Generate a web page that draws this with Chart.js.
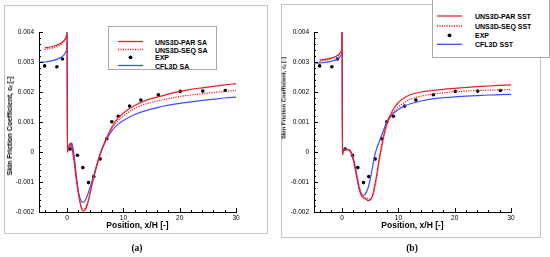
<!DOCTYPE html>
<html>
<head>
<meta charset="utf-8">
<script src="https://cdn.jsdelivr.net/npm/chart.js@4.4.1/dist/chart.umd.min.js"></script>
<style>
  html, body { margin:0; padding:0; background:#fff; }
  body { width:550px; height:257px; position:relative; overflow:hidden; font-family:"Liberation Sans", Arial, sans-serif; }
  .frame { position:absolute; border:1px solid #c4c4c4; box-sizing:border-box; }
  canvas { position:absolute; top:0; }
  .legend { position:absolute; background:#fff; border:1px solid #a8a8a8; box-sizing:border-box; z-index:3; }
  .legend svg { position:absolute; left:0; top:0; }
  .lbl { position:absolute; font-weight:bold; font-size:7px; line-height:7px; white-space:nowrap; color:#000; transform:translateY(-50%); }
  .xt { position:absolute; font-weight:bold; font-size:8.5px; white-space:nowrap; transform:translate(-50%,-50%); z-index:2; }
  .yt { position:absolute; font-weight:bold; white-space:nowrap; transform:translate(-50%,-50%) rotate(-90deg); z-index:2; }
  .yt sub { font-size:70%; vertical-align:-1px; }
  .cap { position:absolute; font-family:"Liberation Serif", serif; font-weight:bold; font-size:9.5px; transform:translate(-50%,-50%); }
</style>
</head>
<body>
<div class="frame" style="left:4px;top:5px;width:264px;height:229px;"></div>
<div class="frame" style="left:281px;top:4px;width:260px;height:234px;"></div>
<canvas id="cA" width="275" height="257" style="left:0px;"></canvas>
<canvas id="cB" width="275" height="257" style="left:275px;"></canvas>
<div class="xt" style="left:137.5px;top:225px;">Position, x/H [-]</div>
<div class="xt" style="left:412.5px;top:225px;">Position, x/H [-]</div>
<div class="yt" style="left:10px;top:126px;font-size:7px;">Skin Friction Coefficient, c<sub>f</sub> [-]</div>
<div class="yt" style="left:284px;top:98px;font-size:5.8px;">Skin Friction Coefficient, c<sub>f</sub> [-]</div>
<div class="cap" style="left:137px;top:248px;">(a)</div>
<div class="cap" style="left:412px;top:248px;">(b)</div>
<div id="legA" class="legend" style="left:108px;top:26px;width:109px;height:44px;"></div>
<div id="legB" class="legend" style="left:432px;top:-1px;width:118px;height:59px;"></div>
<script>
// ---------- DATA (cf values in units of 1e-3) ----------
const expX = [-4.0, -1.83, -0.83, 0.53, 1.83, 2.78, 3.79, 4.73, 5.86, 7.04, 7.93, 9.1, 11.1, 13.1, 16.2, 20.1, 24.1, 28.1];
const expY = [2.87, 2.84, 3.10, 0.10, -0.11, -0.52, -1.02, -0.82, -0.23, 0.44, 1.01, 1.19, 1.53, 1.73, 1.91, 2.02, 2.03, 2.05];

// Panel (a): SA model
const xSA = [-5, -4, -3, -2, -1, -0.5, -0.2, -0.05, 0, 0.05, 0.2, 0.4, 0.6, 0.8, 1.0, 1.3, 1.7, 2.1, 2.5, 2.8, 3.2, 3.6, 4.0, 4.5, 5.0, 5.5, 6.0, 6.5, 7, 8, 9, 10, 12, 14, 16, 18, 20, 22, 24, 26, 28, 30];
const parSA = [null, 3.47, 3.5, 3.55, 3.64, 3.73, 3.83, 3.94, 4.0, 0.0, 0.15, 0.25, 0.3, 0.2, 0.0, -0.4, -1.0, -1.5, -1.85, -1.97, -1.93, -1.75, -1.45, -1.02, -0.65, -0.3, 0.0, 0.25, 0.47, 0.85, 1.12, 1.3, 1.55, 1.72, 1.83, 1.93, 2.02, 2.09, 2.14, 2.19, 2.24, 2.28];
const seqSA = [null, 3.42, 3.45, 3.5, 3.6, 3.7, 3.8, 3.92, 4.0, 0.0, 0.15, 0.25, 0.3, 0.2, 0.0, -0.4, -1.0, -1.48, -1.8, -1.9, -1.87, -1.7, -1.42, -1.0, -0.63, -0.3, 0.0, 0.24, 0.45, 0.8, 1.03, 1.2, 1.45, 1.6, 1.7, 1.78, 1.85, 1.9, 1.94, 1.98, 2.02, 2.05];
const cflSA = [2.99, 3.0, 3.03, 3.08, 3.17, 3.25, 3.35, 3.5, 4.0, 0.0, 0.08, 0.15, 0.22, 0.3, 0.2, -0.2, -0.9, -1.4, -1.63, -1.68, -1.62, -1.45, -1.22, -0.92, -0.6, -0.28, 0.0, 0.22, 0.42, 0.72, 0.92, 1.05, 1.25, 1.38, 1.48, 1.56, 1.62, 1.67, 1.72, 1.76, 1.8, 1.83];

// Panel (b): SST model
const xSST = [-5, -4, -3, -2, -1, -0.5, -0.2, -0.05, 0, 0.05, 0.3, 0.6, 1.0, 1.4, 1.8, 2.2, 2.6, 3.0, 3.4, 3.8, 4.2, 4.6, 5.0, 5.4, 5.8, 6.2, 6.6, 7.0, 7.5, 8, 9, 10, 11, 12, 14, 16, 18, 20, 22, 24, 26, 28, 30];
const parSST = [null, 3.06, 3.09, 3.13, 3.2, 3.27, 3.35, 3.5, 4.0, -0.1, 0.05, 0.08, 0.08, 0.05, -0.1, -0.4, -0.8, -1.2, -1.45, -1.53, -1.57, -1.62, -1.6, -1.45, -1.1, -0.7, -0.2, 0.2, 0.65, 1.0, 1.4, 1.65, 1.8, 1.9, 2.0, 2.05, 2.09, 2.12, 2.15, 2.18, 2.2, 2.22, 2.24];
const seqSST = [null, 3.03, 3.06, 3.1, 3.17, 3.24, 3.32, 3.45, 4.0, -0.05, 0.05, 0.08, 0.08, 0.05, -0.1, -0.38, -0.75, -1.1, -1.38, -1.48, -1.53, -1.56, -1.58, -1.5, -1.2, -0.8, -0.3, 0.1, 0.55, 0.92, 1.3, 1.5, 1.64, 1.75, 1.86, 1.93, 1.97, 2.01, 2.03, 2.05, 2.06, 2.07, 2.08];
const cflSST = [2.96, 2.97, 2.99, 3.02, 3.08, 3.15, 3.22, 3.35, 4.0, 0.0, 0.08, 0.1, 0.08, 0.03, -0.15, -0.45, -0.85, -1.2, -1.4, -1.45, -1.38, -1.2, -0.9, -0.5, -0.1, 0.15, 0.35, 0.55, 0.8, 1.03, 1.27, 1.42, 1.53, 1.6, 1.7, 1.77, 1.81, 1.84, 1.86, 1.88, 1.9, 1.91, 1.92];

const xTicks = [0, 10, 20, 30];
const yTicks = [-0.002, -0.001, 0, 0.001, 0.002, 0.003, 0.004];
const labelsA = ["UNS3D-PAR SA", "UNS3D-SEQ SA", "EXP", "CFL3D SA"];
const labelsB = ["UNS3D-PAR SST", "UNS3D-SEQ SST", "EXP", "CFL3D SST"];

// ---------- helpers ----------
const RED = '#e3202a', BLUE = '#3f4fff';
function pts(xs, ys) {
  const out = [];
  xs.forEach((x, i) => { if (ys[i] !== null) out.push({x: x, y: ys[i] / 1000}); });
  return out;
}
function fmtY(v) { return Math.abs(v) < 1e-9 ? '0' : v.toFixed(3); }

const tickPlugin = {
  id: 'inTicks',
  afterDraw(chart) {
    const ctx = chart.ctx, xs = chart.scales.x, ys = chart.scales.y, a = chart.chartArea;
    ctx.save();
    ctx.strokeStyle = '#000'; ctx.lineWidth = 1;
    ctx.beginPath();
    for (let v = -4; v <= 30; v += 2) {
      const px = Math.round(xs.getPixelForValue(v)) + 0.5;
      const len = (v % 10 === 0) ? 4 : 2;
      ctx.moveTo(px, a.bottom); ctx.lineTo(px, a.bottom - len);
    }
    for (let i = -10; i <= 20; i++) {
      const py = Math.round(ys.getPixelForValue(i * 0.0002)) + 0.5;
      const len = (i % 5 === 0) ? 4 : 2;
      ctx.moveTo(a.left, py); ctx.lineTo(a.left + len, py);
    }
    ctx.stroke();
    ctx.restore();
  }
};

function makeChart(id, xs, par, seq, cfl) {
  const line = (data, color, dash) => ({
    data: data, showLine: true, pointRadius: 0, borderColor: color, borderWidth: 1.2,
    borderDash: dash, cubicInterpolationMode: 'monotone', fill: false
  });
  return new Chart(document.getElementById(id), {
    type: 'scatter',
    data: { datasets: [
      line(pts(xs, par), RED, []),
      line(pts(xs, seq), RED, [1.2, 1.2]),
      line(pts(xs, cfl), BLUE, []),
      { data: pts(expX, expY), showLine: false, pointRadius: 1.8, pointStyle: 'circle',
        backgroundColor: '#000', borderColor: '#000', borderWidth: 0 }
    ]},
    options: {
      responsive: false, animation: false, devicePixelRatio: 1,
      layout: { padding: { left: 0, right: 39, top: 32, bottom: 20 } },
      plugins: { legend: { display: false }, tooltip: { enabled: false } },
      scales: {
        x: {
          type: 'linear', min: -5, max: 30,
          afterBuildTicks: s => { s.ticks = xTicks.map(v => ({ value: v })); },
          afterFit: s => { s.height = 25; },
          grid: { display: false, drawTicks: false },
          border: { display: true, color: '#000', width: 1 },
          ticks: { color: '#000', font: { family: 'Liberation Sans', size: 6.5 }, padding: 2, maxRotation: 0, autoSkip: false }
        },
        y: {
          type: 'linear', min: -0.002, max: 0.004,
          afterBuildTicks: s => { s.ticks = yTicks.map(v => ({ value: v })); },
          afterFit: s => { s.width = 39; },
          grid: { display: false, drawTicks: false },
          border: { display: true, color: '#000', width: 1 },
          ticks: { color: '#000', font: { family: 'Liberation Sans', size: 6.5 }, padding: 5, callback: v => fmtY(v) }
        }
      }
    },
    plugins: [tickPlugin]
  });
}

makeChart('cA', xSA, parSA, seqSA, cflSA);
makeChart('cB', xSST, parSST, seqSST, cflSST);

// ---------- legends (HTML overlay with SVG samples) ----------
const SVGNS = 'http://www.w3.org/2000/svg';
function buildLegend(elId, labels, boxLeft, boxTop, boxW, boxH, rowsY, sampleX0, sampleX1, textX) {
  const el = document.getElementById(elId);
  const svg = document.createElementNS(SVGNS, 'svg');
  svg.setAttribute('width', boxW); svg.setAttribute('height', boxH);
  el.appendChild(svg);
  const kinds = [
    { color: RED, dash: null },
    { color: RED, dash: '1.2 1.2' },
    { dot: true },
    { color: BLUE, dash: null }
  ];
  labels.forEach((t, i) => {
    const y = rowsY[i] - boxTop - 1;
    const k = kinds[i];
    if (k.dot) {
      const c = document.createElementNS(SVGNS, 'circle');
      c.setAttribute('cx', (sampleX0 + sampleX1) / 2 - boxLeft - 1);
      c.setAttribute('cy', y);
      c.setAttribute('r', 1.9);
      c.setAttribute('fill', '#000');
      svg.appendChild(c);
    } else {
      const ln = document.createElementNS(SVGNS, 'line');
      ln.setAttribute('x1', sampleX0 - boxLeft - 1);
      ln.setAttribute('x2', sampleX1 - boxLeft - 1);
      ln.setAttribute('y1', y); ln.setAttribute('y2', y);
      ln.setAttribute('stroke', k.color);
      ln.setAttribute('stroke-width', 1.3);
      if (k.dash) ln.setAttribute('stroke-dasharray', k.dash);
      svg.appendChild(ln);
    }
    const l = document.createElement('div');
    l.className = 'lbl';
    l.style.left = (textX - boxLeft - 1) + 'px';
    l.style.top = y + 'px';
    l.textContent = t;
    el.appendChild(l);
  });
}
buildLegend('legA', labelsA, 108, 26, 109, 44, [41.5, 49.5, 57.3, 65.5], 118, 143, 155);
buildLegend('legB', labelsB, 432, -1, 118, 59, [16, 26, 35.3, 44.3], 437, 462, 475);
</script>
</body>
</html>
